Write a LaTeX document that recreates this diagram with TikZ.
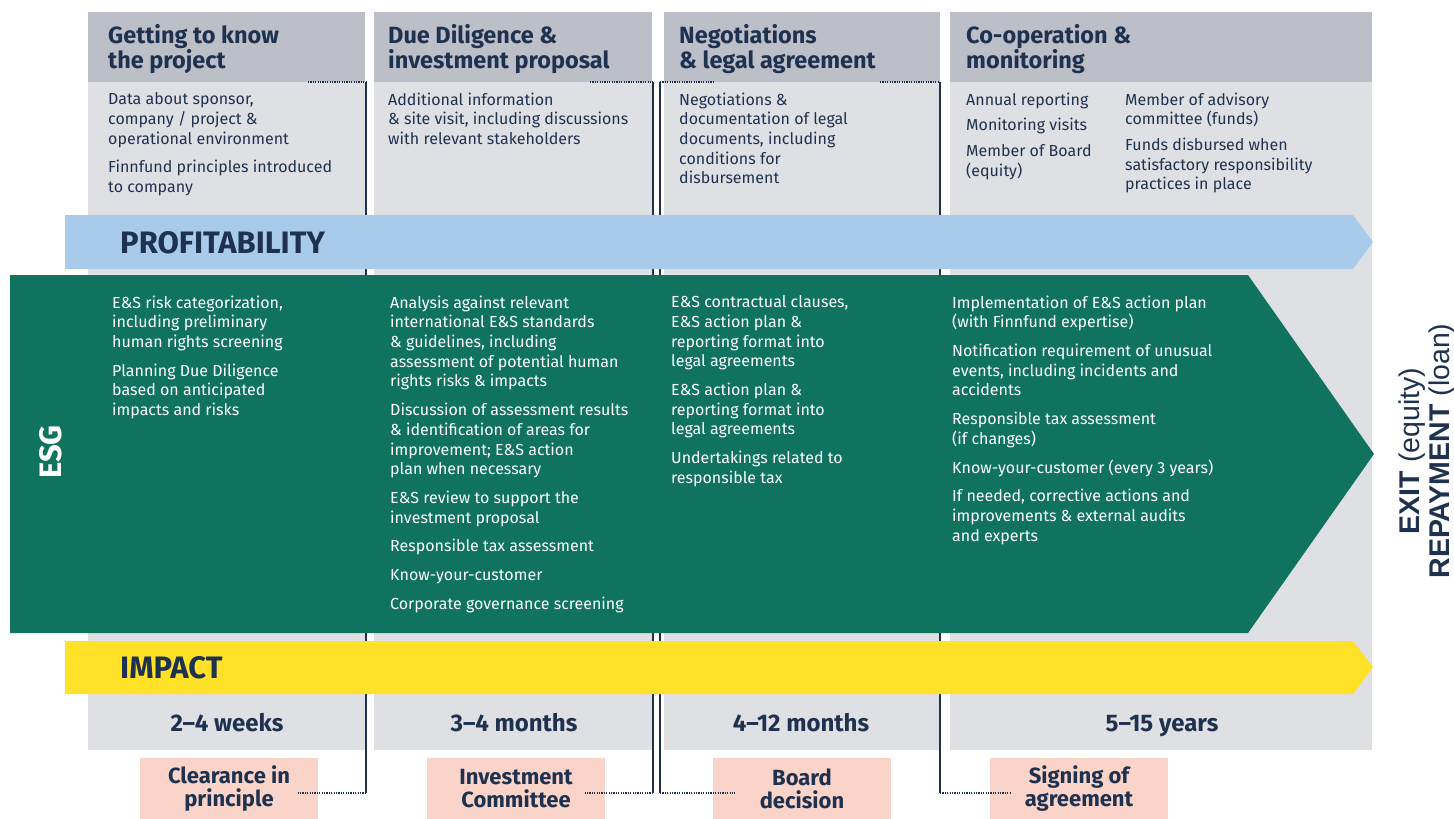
\documentclass[tikz,border=0pt]{standalone}
\usepackage{fontspec}
\setmainfont{Fira Sans}
\newfontfamily\exitfont{Liberation Sans}
\definecolor{navy}{HTML}{1E3250}
\definecolor{headgray}{HTML}{BDBFC8}
\definecolor{bodygray}{HTML}{DFE0E4}
\definecolor{profblue}{HTML}{A8CBEC}
\definecolor{esggreen}{HTML}{0F7360}
\definecolor{impyellow}{HTML}{FFE128}
\definecolor{msbox}{HTML}{FAD3C9}
\newcommand{\pg}{\\[9pt]}
\begin{document}
\begin{tikzpicture}[x=1pt,y=-1pt,
  headtxt/.style={anchor=north west,inner sep=0,align=left,text=navy,font=\fontsize{23.5}{25}\selectfont\bfseries},
  bodytxt/.style={anchor=north west,inner sep=0,align=left,text=navy,font=\fontsize{16}{19.7}\selectfont},
  esgtxt/.style={bodytxt,text=white},
  bartxt/.style={anchor=west,inner sep=0,text=navy,font=\fontsize{31}{32}\selectfont\bfseries},
  durtxt/.style={anchor=base,inner sep=0,text=navy,font=\fontsize{24}{25}\selectfont\bfseries},
  milestone/.style={fill=msbox,minimum width=178,minimum height=61,inner sep=0,align=center,text=navy,font=\fontsize{22}{23}\selectfont\bfseries},
  phaseline/.style={navy,line width=1.4pt},
  dotline/.style={navy,line width=1.2pt,dash pattern=on 1.2pt off 1.2pt}]
\useasboundingbox (0,0) rectangle (1454,819);

% phase columns
\foreach \xa/\xb in {88/365,374/652,664/940,950/1372}{
  \fill[bodygray] (\xa,82) rectangle (\xb,750);
  \fill[headgray] (\xa,12) rectangle (\xb,82);
}

% phase headers
\node[headtxt] (h1) at (108,24) {Getting to know\\the project};
\node[headtxt] (h2) at (388,24) {Due Diligence \&\\investment proposal};
\node[headtxt] (h3) at (679,24) {Negotiations\\\& legal agreement};
\node[headtxt] (h4) at (966,24) {Co-operation \&\\monitoring};

% phase contents
\node[bodytxt] (p1) at (108,92.5) {Data about sponsor,\\company / project \&\\operational environment\pg Finnfund principles introduced\\to company};
\node[bodytxt] (p2) at (388,92.5) {Additional information\\\& site visit, including discussions\\with relevant stakeholders};
\node[bodytxt] (p3) at (679,92.5) {Negotiations \&\\documentation of legal\\documents, including\\conditions for\\disbursement};
\node[bodytxt] (p4a) at (966,92.5) {Annual reporting\\[6pt]Monitoring visits\\[6pt]Member of Board\\(equity)};
\node[bodytxt] (p4b) at (1125,92.5) {Member of advisory\\committee (funds)\\[6pt]Funds disbursed when\\satisfactory responsibility\\practices in place};

% milestones and their lines
\coordinate (t1) at (366,82);  \coordinate (b1) at (366,793);  \coordinate (d1) at (297,793);
\coordinate (t2) at (653,82);  \coordinate (b2) at (653,793);  \coordinate (d2) at (585,793);
\coordinate (t3) at (660,82);  \coordinate (b3) at (660,793);  \coordinate (d3) at (735,793);
\coordinate (t4) at (940,82);  \coordinate (b4) at (940,793);  \coordinate (d4) at (1010,793);
\node[milestone] (ms1) at (229,788.5) {Clearance in\\principle};
\node[milestone] (ms2) at (516,788.5) {Investment\\Committee};
\node[milestone] (ms3) at (802,788.5) {Board\\decision};
\node[milestone] (ms4) at (1079,788.5) {Signing of\\agreement};
\foreach \i in {1,...,4}{
  \draw[phaseline] (t\i) -- (b\i);
  \draw[dotline] (b\i) -- (d\i);
}
\draw[dotline] (308,82) -- (t1);
\draw[dotline] (590,82) -- (t2);
\draw[dotline] (t3) -- (713,82);
\draw[dotline] (880,82) -- (t4);

% profitability
\fill[profblue] (65,215) -- (1353,215) -- (1373,242) -- (1353,269) -- (65,269) -- cycle;
\node[bartxt] (prof) at (120,243) {PROFITABILITY};

% ESG
\fill[esggreen] (10,275) -- (1248,275) -- (1374,454) -- (1248,633) -- (10,633) -- cycle;
\node[bartxt,anchor=center,text=white,rotate=90] (esg) at (51,452) {ESG};
\node[esgtxt] (e1) at (112,295.5) {E\&S risk categorization,\\including preliminary\\human rights screening\pg Planning Due Diligence\\based on anticipated\\impacts and risks};
\node[esgtxt] (e2) at (390,295.5) {Analysis against relevant\\international E\&S standards\\\& guidelines, including\\assessment of potential human\\rights risks \& impacts\pg Discussion of assessment results\\\& identification of areas for\\improvement; E\&S action\\plan when necessary\pg E\&S review to support the\\investment proposal\pg Responsible tax assessment\pg Know-your-customer\pg Corporate governance screening};
\node[esgtxt] (e3) at (671,295.5) {E\&S contractual clauses,\\E\&S action plan \&\\reporting format into\\legal agreements\pg E\&S action plan \&\\reporting format into\\legal agreements\pg Undertakings related to\\responsible tax};
\node[esgtxt] (e4) at (952,295.5) {Implementation of E\&S action plan\\(with Finnfund expertise)\pg Notification requirement of unusual\\events, including incidents and\\accidents\pg Responsible tax assessment\\(if changes)\pg Know-your-customer (every 3 years)\pg If needed, corrective actions and\\improvements \& external audits\\and experts};

% impact
\fill[impyellow] (65,641) -- (1353,641) -- (1373,667) -- (1353,694) -- (65,694) -- cycle;
\node[bartxt] (imp) at (120,668) {IMPACT};

% durations
\node[durtxt] (w1) at (227,731) {2--4 weeks};
\node[durtxt] (w2) at (514,731) {3--4 months};
\node[durtxt] (w3) at (801,731) {4--12 months};
\node[durtxt] (w4) at (1162,731) {5--15 years};

% exit
\node[rotate=90,inner sep=0,align=center,text=navy,font=\exitfont\fontsize{28.5}{30}\selectfont] (exit) at (1427,451) {\textbf{EXIT} (equity)\\\textbf{REPAYMENT} (loan)};
\end{tikzpicture}
\end{document}
